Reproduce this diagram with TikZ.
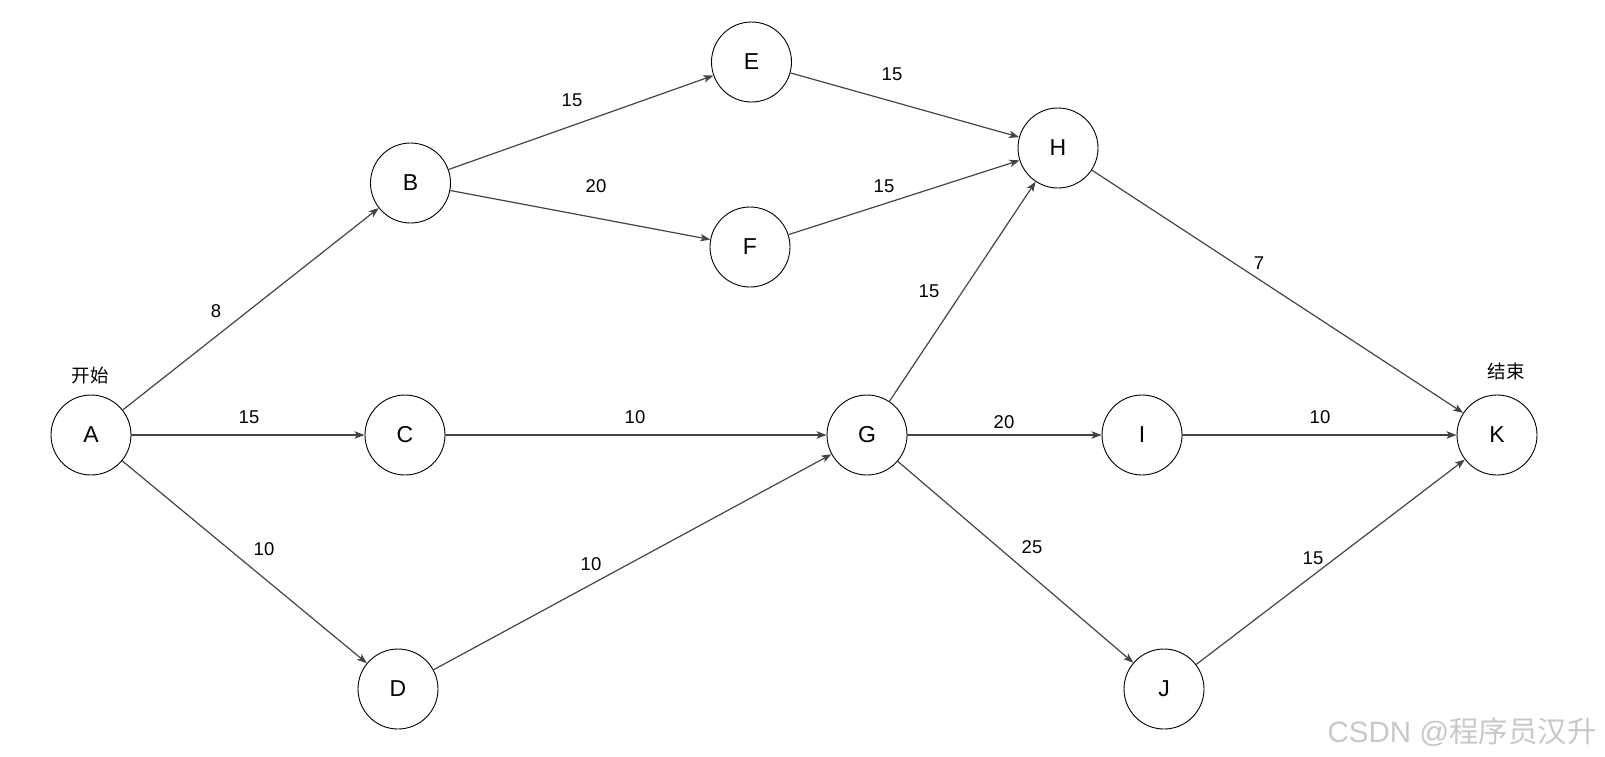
\documentclass[tikz,border=0pt]{standalone}
\usepackage{fontspec}
\setmainfont{Liberation Sans}
\newfontfamily\cjk{Noto Sans CJK SC}
\usetikzlibrary{arrows.meta}
\definecolor{edgecol}{HTML}{444444}
\definecolor{wmcol}{HTML}{C8C8C8}
\tikzset{
  vtx/.style={circle, draw=black, line width=0.9pt, minimum size=80pt, inner sep=0pt, font=\fontsize{23}{23}\selectfont},
  edge/.style={draw=edgecol, line width=1.2pt, -{Stealth[length=10pt,width=7.5pt,inset=2.5pt]}},
  lbl/.style={font=\fontsize{18.5}{18.5}\selectfont, inner sep=0pt},
  cjklbl/.style={font=\cjk\fontsize{18.5}{18.5}\selectfont, inner sep=0pt},
}
\begin{document}
\begin{tikzpicture}[x=1pt,y=-1pt]
\useasboundingbox (0,0) rectangle (1605,756);
\node[vtx] (A) at (91,435) {A};
\node[vtx] (B) at (410.5,183) {B};
\node[vtx] (C) at (405,435) {C};
\node[vtx] (D) at (398,689) {D};
\node[vtx] (E) at (751.5,62) {E};
\node[vtx] (F) at (750,247) {F};
\node[vtx] (G) at (867,435) {G};
\node[vtx] (H) at (1058,148) {H};
\node[vtx] (I) at (1142,435) {I};
\node[vtx] (J) at (1164,689) {J};
\node[vtx] (K) at (1497,435) {K};

\draw[edge] (A) -- (B);
\draw[edge] (A) -- (C);
\draw[edge] (A) -- (D);
\draw[edge] (B) -- (E);
\draw[edge] (B) -- (F);
\draw[edge] (E) -- (H);
\draw[edge] (F) -- (H);
\draw[edge] (C) -- (G);
\draw[edge] (D) -- (G);
\draw[edge] (G) -- (H);
\draw[edge] (G) -- (I);
\draw[edge] (G) -- (J);
\draw[edge] (H) -- (K);
\draw[edge] (I) -- (K);
\draw[edge] (J) -- (K);

\node[lbl] (lAB) at (216,311) {8};
\node[lbl] (lAC) at (249,417) {15};
\node[lbl] (lAD) at (264,549) {10};
\node[lbl] (lBE) at (572,100) {15};
\node[lbl] (lBF) at (596,186) {20};
\node[lbl] (lEH) at (892,74) {15};
\node[lbl] (lFH) at (884,186) {15};
\node[lbl] (lGH) at (929,291) {15};
\node[lbl] (lHK) at (1259,263) {7};
\node[lbl] (lCG) at (635,417) {10};
\node[lbl] (lDG) at (591,564) {10};
\node[lbl] (lGI) at (1004,422) {20};
\node[lbl] (lGJ) at (1032,547) {25};
\node[lbl] (lIK) at (1320,417) {10};
\node[lbl] (lJK) at (1313,558) {15};
\node[cjklbl] (start) at (90,375) {开始};
\node[cjklbl] (end) at (1506,371) {结束};
\node[anchor=east, inner sep=0pt, text=wmcol, font=\fontsize{29.5}{29.5}\selectfont] (wm) at (1597,732) {CSDN @{\cjk 程序员汉升}};
\end{tikzpicture}
\end{document}
